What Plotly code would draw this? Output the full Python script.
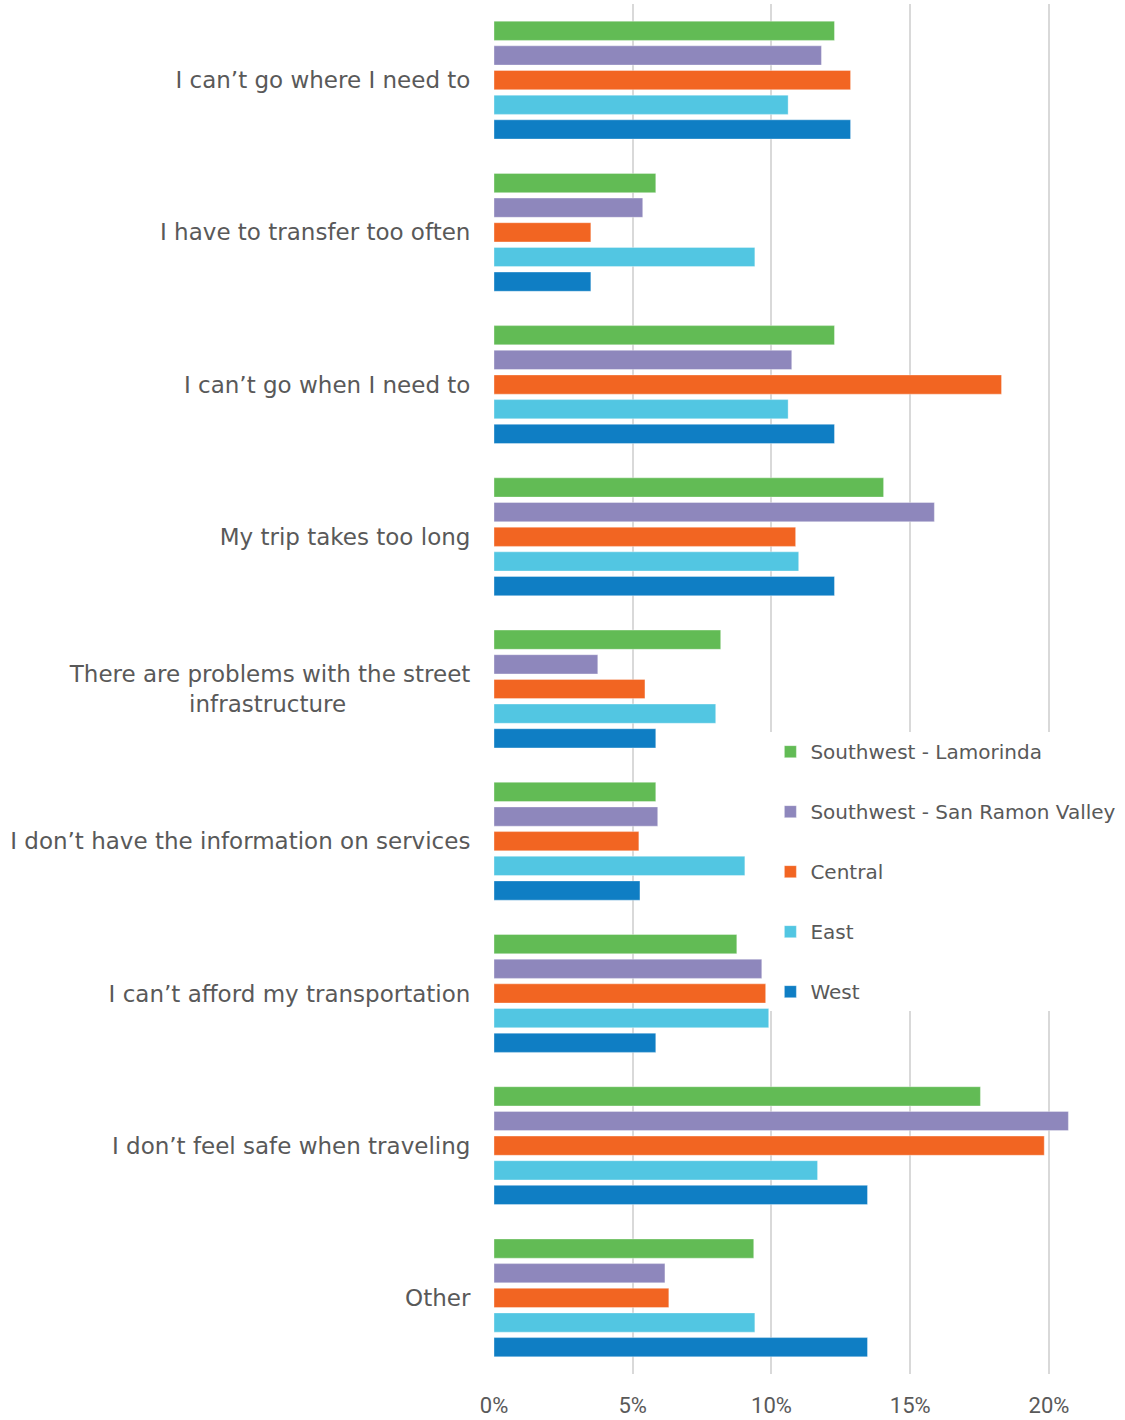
import plotly.graph_objects as go

categories = [
    "I can\u2019t go where I need to",
    "I have to transfer too often",
    "I can\u2019t go when I need to",
    "My trip takes too long",
    "There are problems with the street<br>infrastructure" + "\u00a0" * 17,
    "I don\u2019t have the information on services",
    "I can\u2019t afford my transportation",
    "I don\u2019t feel safe when traveling",
    "Other",
]

series_names = [
    "Southwest - Lamorinda",
    "Southwest - San Ramon Valley",
    "Central",
    "East",
    "West",
]

lamorinda = [0.1227, 0.0583, 0.1227, 0.1404, 0.0817, 0.0583, 0.0875, 0.1753, 0.0936]
san_ramon = [0.1180, 0.0536, 0.1073, 0.1587, 0.0374, 0.0590, 0.0965, 0.2070, 0.0616]
central = [0.1285, 0.0349, 0.1829, 0.1087, 0.0544, 0.0522, 0.0979, 0.1983, 0.0630]
east = [0.1060, 0.0940, 0.1060, 0.1098, 0.0799, 0.0904, 0.0990, 0.1166, 0.0940]
west = [0.1285, 0.0349, 0.1227, 0.1227, 0.0583, 0.0526, 0.0583, 0.1346, 0.1346]

series_values = [lamorinda, san_ramon, central, east, west]
colors = ["#62BB55", "#8E87BC", "#F26522", "#52C6E2", "#0F7EC4"]

tick_vals = [0, 0.05, 0.10, 0.15, 0.20]
tick_text = ["0%", "5%", "10%", "15%", "20%"]

fig = go.Figure()
for i, (name, vals, col) in enumerate(zip(series_names, series_values, colors)):
    fig.add_trace(go.Bar(
        y=categories,
        x=vals,
        name=name,
        orientation="h",
        marker=dict(color=col, line=dict(color="rgba(255,255,255,0.35)", width=1)),
        legendgroup=f"g{i}",
    ))

fig.update_layout(
    width=1125,
    height=1420,
    barmode="group",
    bargap=0.19,
    bargroupgap=0.22,
    plot_bgcolor="white",
    paper_bgcolor="white",
    margin=dict(l=494, r=0, t=4, b=46),
    font=dict(family="DejaVu Sans", color="#595959", size=20),
    legend=dict(
        x=0.438, xanchor="left",
        y=0.4685, yanchor="top",
        bgcolor="white",
        font=dict(size=20, color="#595959"),
        traceorder="grouped",
        tracegroupgap=31,
        itemwidth=30,
    ),
    xaxis=dict(
        range=[0, 0.2274],
        tickvals=tick_vals,
        ticktext=tick_text,
        showgrid=True,
        gridcolor="#D9D9D9",
        gridwidth=1.5,
        zeroline=False,
        showline=False,
        ticks="outside",
        ticklen=12,
        tickcolor="rgba(0,0,0,0)",
        tickfont=dict(family="Roboto", size=22, color="#595959"),
    ),
    yaxis=dict(
        autorange="reversed",
        showgrid=False,
        ticks="outside",
        ticklen=18,
        tickcolor="rgba(0,0,0,0)",
        tickfont=dict(family="DejaVu Sans", size=23, color="#595959"),
    ),
)

fig.write_html(
    "out.html",
    config={"displayModeBar": False},
    post_script="document.body.style.margin='0';",
)
